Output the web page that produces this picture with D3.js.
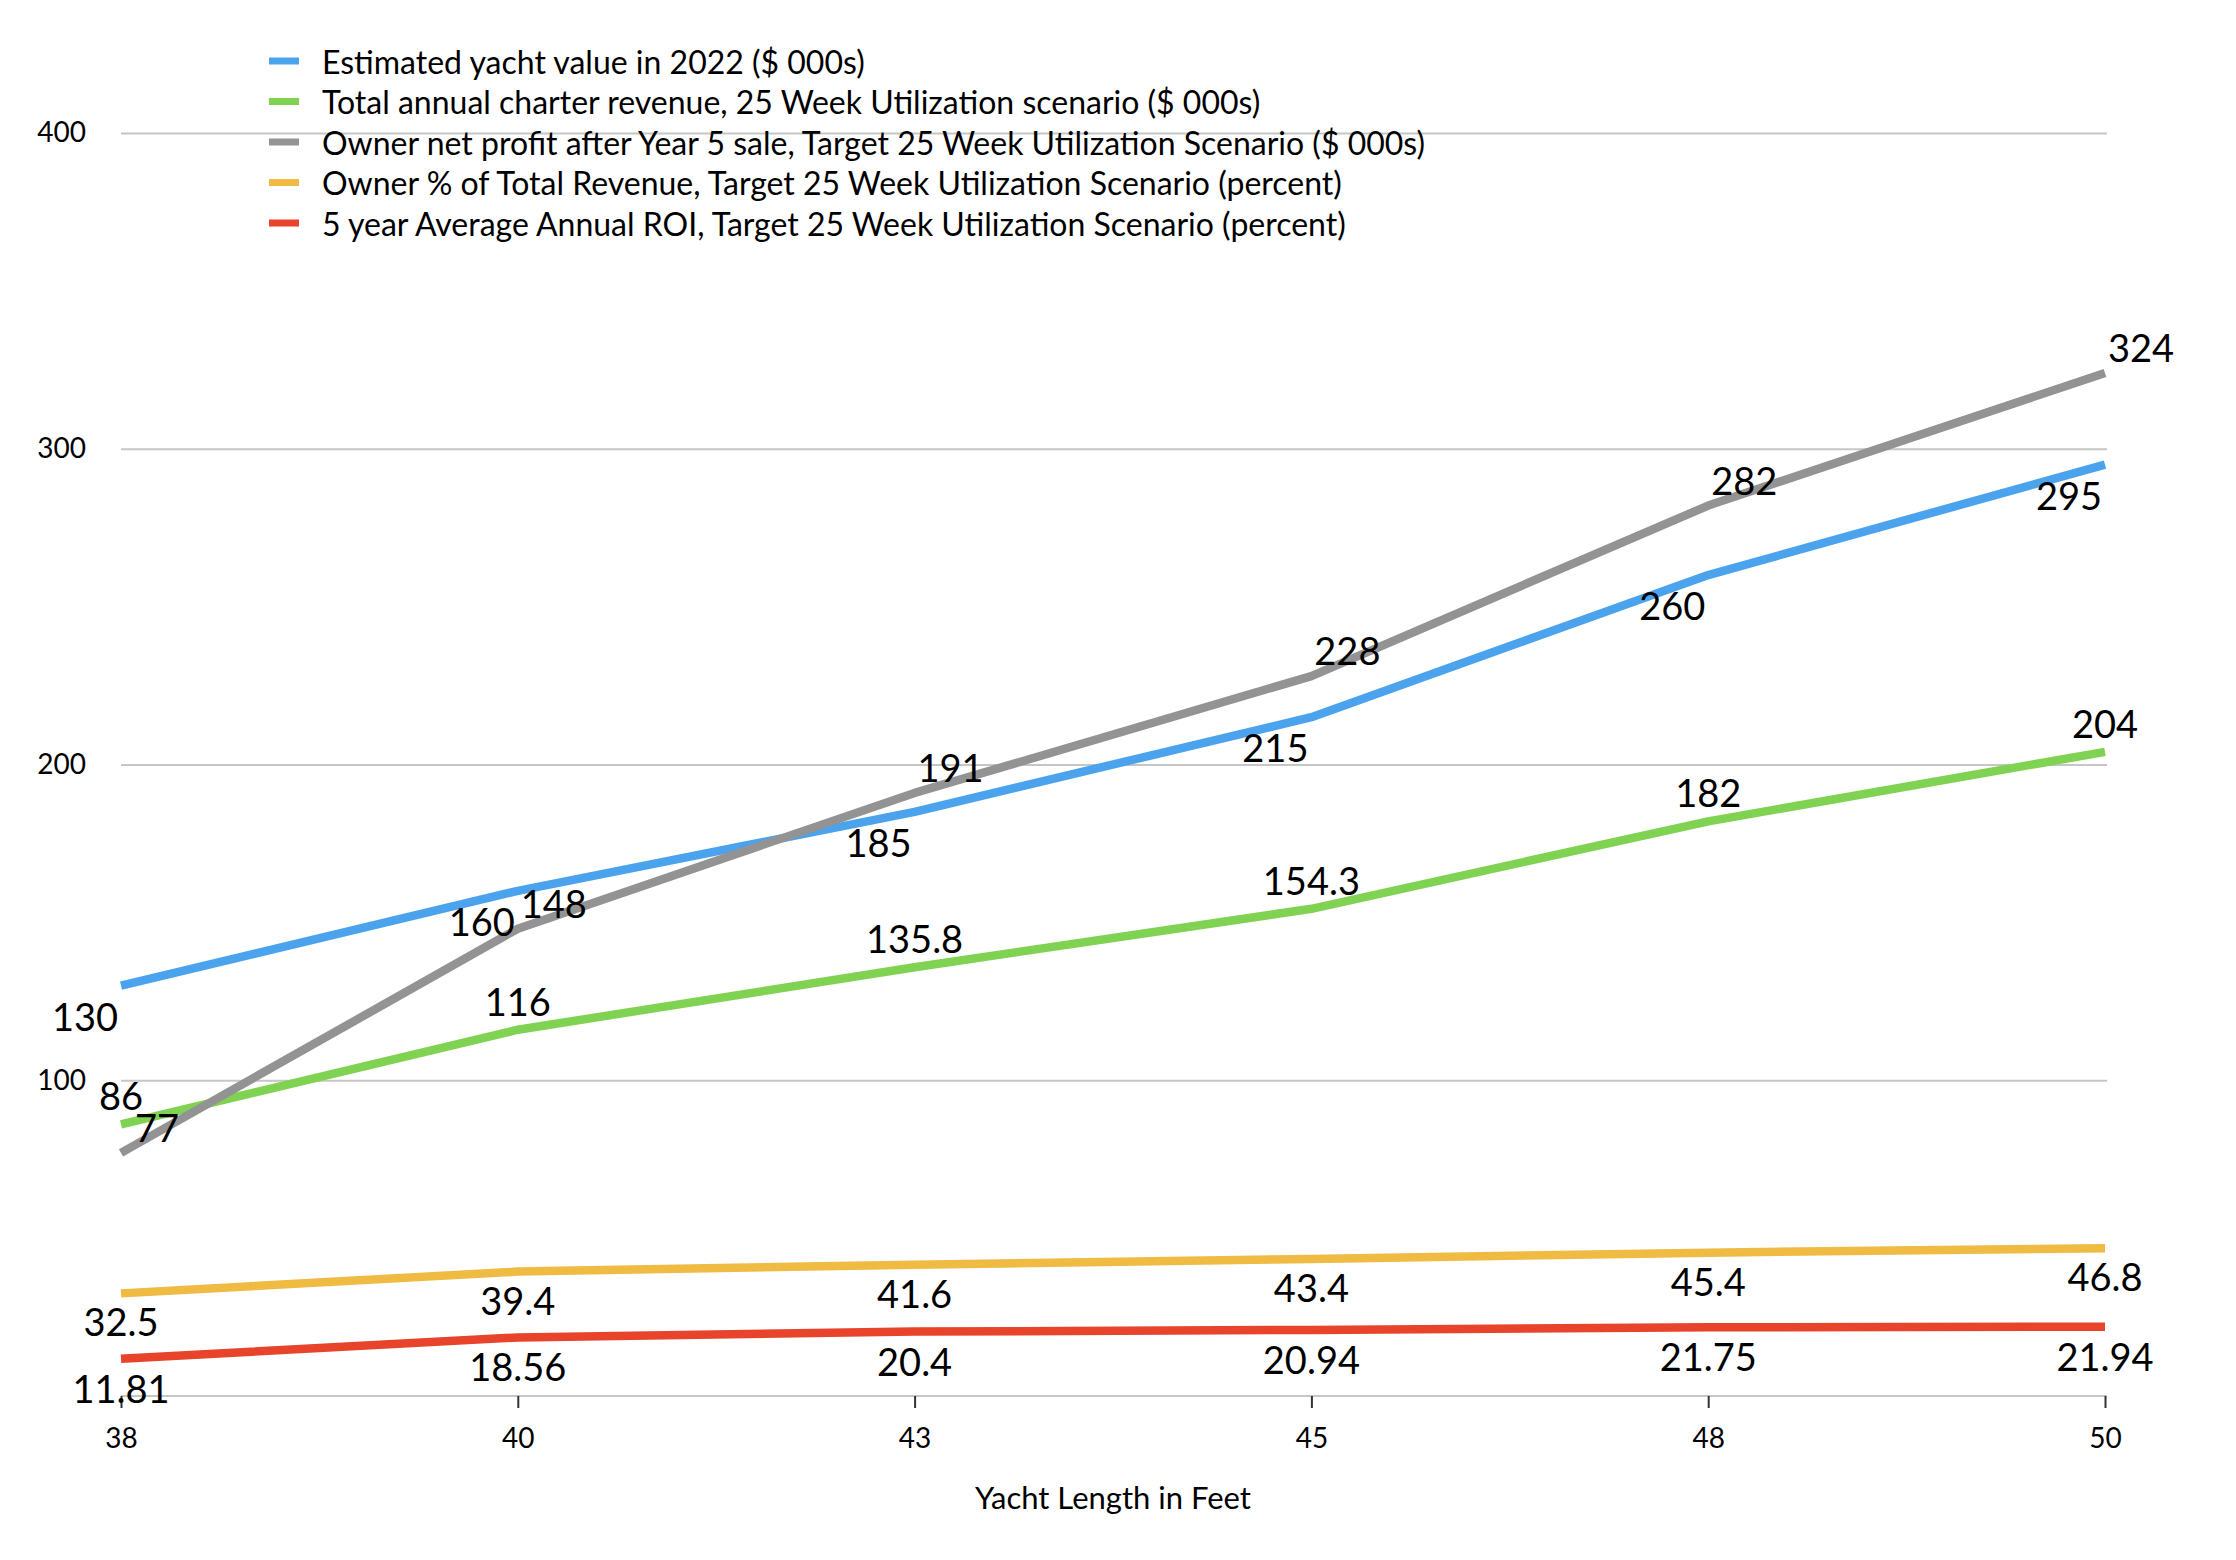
<!DOCTYPE html>
<html>
<head>
<meta charset="utf-8">
<script src="https://cdn.jsdelivr.net/npm/d3@7/dist/d3.min.js"></script>
<style>
  html, body { margin: 0; padding: 0; background: #fff; }
  svg { display: block; }
  text { font-family: "Gill Sans", "Gill Sans MT", Lato, "Open Sans", sans-serif; fill: #000; }
</style>
</head>
<body>
<svg id="chart" width="2236" height="1560"></svg>
<script>
// ---- data ----
const lengths = ["38", "40", "43", "45", "48", "50"];
const yachtValue = [130, 160, 185, 215, 260, 295];
const charterRevenue = [86, 116, 135.8, 154.3, 182, 204];
const ownerNetProfit = [77, 148, 191, 228, 282, 324];
const ownerPctRevenue = [32.5, 39.4, 41.6, 43.4, 45.4, 46.8];
const avgAnnualROI = [11.81, 18.56, 20.4, 20.94, 21.75, 21.94];
const yTicks = [100, 200, 300, 400];
const seriesNames = [
  "Estimated yacht value in 2022 ($ 000s)",
  "Total annual charter revenue, 25 Week Utilization scenario ($ 000s)",
  "Owner net profit after Year 5 sale, Target 25  Week Utilization Scenario ($ 000s)",
  "Owner % of Total Revenue, Target 25 Week Utilization Scenario (percent)",
  "5 year Average Annual ROI, Target 25 Week Utilization Scenario (percent)"
];
const xTitle = "Yacht Length in Feet";

// ---- styles ----
const seriesValues = [yachtValue, charterRevenue, ownerNetProfit, ownerPctRevenue, avgAnnualROI];
const seriesColors = ["#4ba3ee", "#80d352", "#939393", "#efbb42", "#e8432b"];
const labelOffsets = [[-36, 30], [0, -29], [36, -26], [0, 28], [0, 29]];
const drawOrder = [3, 4, 1, 0, 2];

const X0 = 121, X1 = 2105, GRID_END = 2107;
const svg = d3.select("#chart");
const x = d3.scalePoint().domain(lengths).range([X0, X1]);
const y = d3.scaleLinear().domain([0, 400]).range([1396, 133]);

// gridlines + y labels
const yAxis = d3.axisLeft(y).tickValues(yTicks).tickSize(-(GRID_END - X0)).tickPadding(35);
const gy = svg.append("g").attr("transform", `translate(${X0},0)`).call(yAxis);
gy.select(".domain").remove();
gy.selectAll(".tick line").attr("stroke", "#c6c6c6").attr("stroke-width", 2);
gy.selectAll(".tick text").attr("font-size", 28).attr("fill", "#000");

// x axis
const xAxis = d3.axisBottom(x).tickSize(12).tickPadding(20);
const gx = svg.append("g").attr("transform", `translate(0,${y(0)})`).call(xAxis);
gx.select(".domain").attr("d", `M${X0},0H${GRID_END}`).attr("stroke", "#c6c6c6").attr("stroke-width", 2);
gx.selectAll(".tick line").attr("stroke", "#333").attr("stroke-width", 2);
gx.selectAll(".tick text").attr("font-size", 28).attr("fill", "#000");

svg.append("text").attr("x", (X0 + X1) / 2).attr("y", 1509)
  .attr("text-anchor", "middle").attr("font-size", 31).text(xTitle);

// lines
const line = d3.line().x((d, i) => x(lengths[i])).y(d => y(d));
drawOrder.forEach(si => {
  svg.append("path").datum(seriesValues[si])
    .attr("d", line).attr("fill", "none")
    .attr("stroke", seriesColors[si]).attr("stroke-width", 8.5)
    .attr("stroke-linejoin", "round");
});

// data labels
seriesValues.forEach((vals, si) => {
  svg.append("g").selectAll("text").data(vals).join("text")
    .attr("x", (d, i) => x(lengths[i]) + labelOffsets[si][0])
    .attr("y", d => y(d) + labelOffsets[si][1])
    .attr("text-anchor", "middle").attr("dominant-baseline", "central")
    .attr("font-size", 38)
    .text(d => d);
});

// legend
const lg = svg.append("g");
seriesNames.forEach((name, i) => {
  const cy = 61 + i * 40.5;
  lg.append("rect").attr("x", 269).attr("y", cy - 3.5).attr("width", 30).attr("height", 7)
    .attr("fill", seriesColors[i]);
  lg.append("text").attr("x", 322).attr("y", cy).attr("dominant-baseline", "central")
    .attr("font-size", 32).text(name);
});
</script>
</body>
</html>
